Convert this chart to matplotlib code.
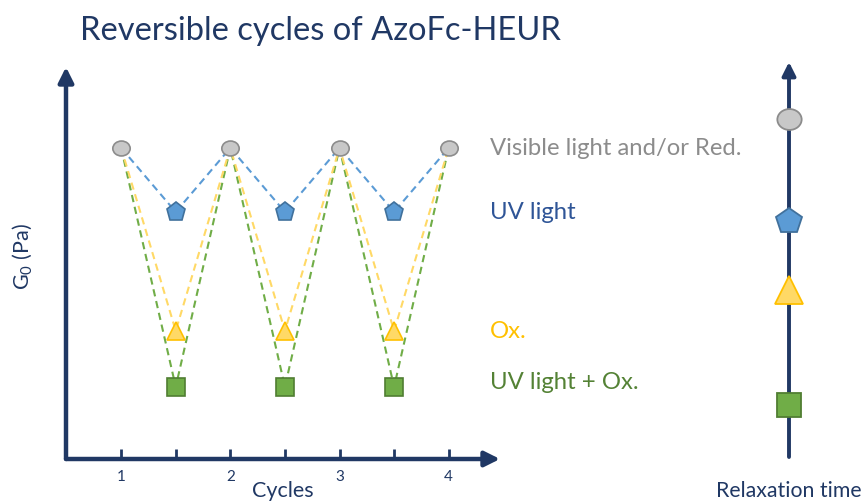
import matplotlib
matplotlib.use("Agg")
import matplotlib.pyplot as plt
from matplotlib.path import Path
from matplotlib.transforms import Affine2D
import numpy as np

plt.rcParams['font.family'] = ['Lato', 'DejaVu Sans']
plt.rcParams['mathtext.default'] = 'regular'

# ---- data ----
cycles_top = [1, 2, 3, 4]
cycles_mid = [1.5, 2.5, 3.5]
g0_visible = 10.0
g0_uv = 7.94
g0_ox = 4.12
g0_uvox = 2.32
tick_positions = [1, 1.5, 2, 2.5, 3, 3.5, 4]
tick_labels = ["1", "", "2", "", "3", "", "4"]
states = ["Visible light and/or Red.", "UV light", "Ox.", "UV light + Ox."]
relax_times = [10.0, 7.0, 4.95, 1.53]

NAVY = "#203864"
GRAY_FILL, GRAY_EDGE, GRAY_TXT = "#C8C8C8", "#8C8C8C", "#8C8C8C"
BLUE_FILL, BLUE_EDGE, BLUE_LINE, BLUE_TXT = "#5B9BD5", "#41719C", "#5B9BD5", "#2F5597"
YEL_FILL, YEL_EDGE, YEL_LINE, YEL_TXT = "#FFD966", "#FFC000", "#FFD966", "#FFC000"
GRN_FILL, GRN_EDGE, GRN_LINE, GRN_TXT = "#70AD47", "#507E32", "#70AD47", "#548235"

ellipse = Path.unit_circle().transformed(Affine2D().scale(1.0, 0.86))

W, H = 866, 502
fig = plt.figure(figsize=(W / 100, H / 100), dpi=100)

def fx(px):
    return px / W

def fy(py):
    return 1 - py / H

# main axes
ax = fig.add_axes([fx(66), fy(460), fx(500) - fx(66), fy(68) - fy(460)])
ax.set_xlim(0.495, 4.47)
ax.set_ylim(0, 12.6)
for s in ax.spines.values():
    s.set_visible(False)
ax.patch.set_alpha(0)

# axis arrows
arrow_kw = dict(arrowstyle="-|>,head_length=0.9,head_width=0.45", color=NAVY, lw=3.2,
                shrinkA=0, shrinkB=0)
ax.annotate("", xy=(1, 0), xytext=(0, 0), xycoords="axes fraction",
            arrowprops=arrow_kw, annotation_clip=False)
ax.annotate("", xy=(0, 1), xytext=(0, 0), xycoords="axes fraction",
            arrowprops=arrow_kw, annotation_clip=False)

ax.set_xticks(tick_positions)
ax.set_xticklabels(tick_labels)
ax.tick_params(axis="x", direction="in", length=7, width=2, color=NAVY,
               labelcolor=NAVY, labelsize=11, pad=7)
ax.set_yticks([])

# dashed lines
def zig(lo):
    xs, ys = [], []
    for i in range(len(cycles_mid)):
        xs += [cycles_top[i], cycles_mid[i]]
        ys += [g0_visible, lo]
    xs.append(cycles_top[-1]); ys.append(g0_visible)
    return xs, ys

dash = (3.5, 2.3)
for lo, col in [(g0_uvox, GRN_LINE), (g0_ox, YEL_LINE), (g0_uv, BLUE_LINE)]:
    xs, ys = zig(lo)
    ax.plot(xs, ys, color=col, lw=1.5, dashes=dash, zorder=2)

mk_edge = 1.2
ax.plot(cycles_top, [g0_visible] * 4, ls="none", marker=ellipse, ms=12.5,
        mfc=GRAY_FILL, mec=GRAY_EDGE, mew=mk_edge, zorder=3)
ax.plot(cycles_mid, [g0_uv] * 3, ls="none", marker="p", ms=14,
        mfc=BLUE_FILL, mec=BLUE_EDGE, mew=mk_edge, zorder=3)
ax.plot(cycles_mid, [g0_ox] * 3, ls="none", marker="^", ms=13.5,
        mfc=YEL_FILL, mec=YEL_EDGE, mew=mk_edge, zorder=3)
ax.plot(cycles_mid, [g0_uvox] * 3, ls="none", marker="s", ms=12.5,
        mfc=GRN_FILL, mec=GRN_EDGE, mew=mk_edge, zorder=3)

# state labels
label_x = 4.376
for txt, yv, col in zip(states, [g0_visible, g0_uv, g0_ox, g0_uvox + 0.16],
                        [GRAY_TXT, BLUE_TXT, YEL_TXT, GRN_TXT]):
    ax.text(label_x, yv, txt, color=col, fontsize=17.2, va="center", ha="left",
            clip_on=False)

# axis labels
fig.text(fx(283), fy(491), "Cycles", color=NAVY, fontsize=15.5, ha="center", va="center")
fig.text(fx(22), fy(257), "$G_0$ (Pa)", color=NAVY, fontsize=15.5, ha="center",
         va="center", rotation=90)

# title
fig.text(fx(80), fy(31), "Reversible cycles of AzoFc-HEUR", color=NAVY,
         fontsize=23.5, ha="left", va="center")

# right axis (relaxation time)
ax2 = fig.add_axes([fx(759), fy(458), fx(60), fy(63) - fy(458)])
ax2.set_xlim(-1, 1)
ax2.set_ylim(0, 11.7)
ax2.axis("off")
ax2.annotate("", xy=(0.5, 1), xytext=(0.5, 0), xycoords="axes fraction",
             arrowprops=dict(arrowstyle="-|>,head_length=0.8,head_width=0.4",
                             color=NAVY, lw=2.8, shrinkA=0, shrinkB=0),
             annotation_clip=False)
ax2.plot([0], [relax_times[0]], marker=ellipse, ms=17.5, mfc=GRAY_FILL,
         mec=GRAY_EDGE, mew=1.3, zorder=3)
ax2.plot([0], [relax_times[1]], marker="p", ms=19, mfc=BLUE_FILL,
         mec=BLUE_EDGE, mew=1.3, zorder=3)
ax2.plot([0], [relax_times[2]], marker="^", ms=20, mfc=YEL_FILL,
         mec=YEL_EDGE, mew=1.3, zorder=3)
ax2.plot([0], [relax_times[3]], marker="s", ms=17.5, mfc=GRN_FILL,
         mec=GRN_EDGE, mew=1.3, zorder=3)
fig.text(fx(789), fy(491), "Relaxation time", color=NAVY, fontsize=15.3,
         ha="center", va="center")

fig.savefig("out.png", dpi=100)
